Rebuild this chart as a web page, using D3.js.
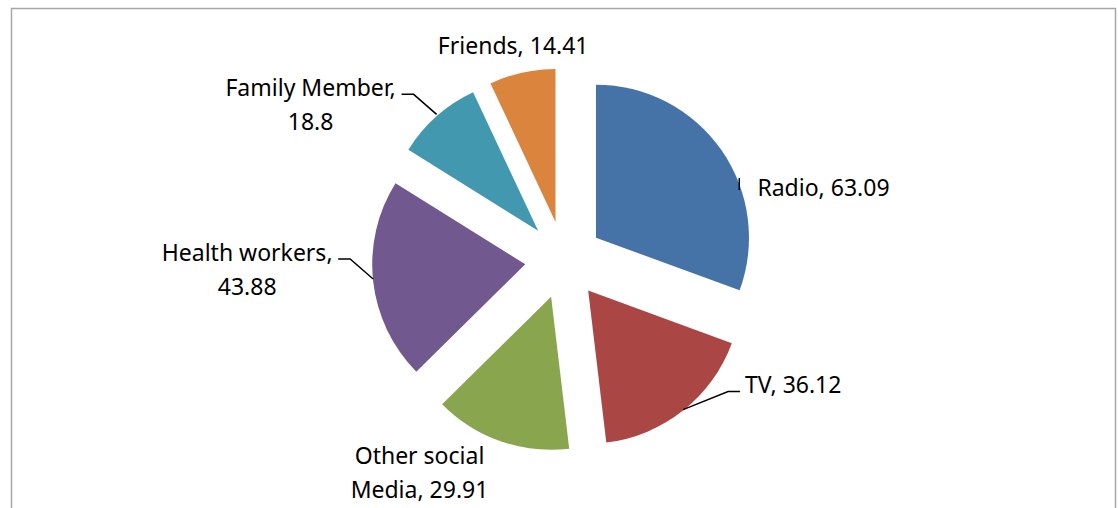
<!DOCTYPE html>
<html>
<head>
<meta charset="utf-8">
<script src="https://cdn.jsdelivr.net/npm/d3@7"></script>
<style>
  body { margin: 0; background: #fff; }
  text { font-family: "Noto Sans", "Open Sans", sans-serif; fill: #000; }
</style>
</head>
<body>
<div id="chart-area"></div>
<script>
// data, in the order the slices are drawn (clockwise from 12 o'clock)
const categories = ["Radio", "TV", "Other social Media", "Health workers", "Family Member", "Friends"];
const values = [63.09, 36.12, 29.91, 43.88, 18.8, 14.41];
const valueLabels = ["63.09", "36.12", "29.91", "43.88", "18.8", "14.41"];
const labelLines = [
  ["Radio, 63.09"],
  ["TV, 36.12"],
  ["Other social", "Media, 29.91"],
  ["Health workers,", "43.88"],
  ["Family Member,", "18.8"],
  ["Friends, 14.41"]
];
const colors = ["#4572A7", "#AA4643", "#89A54E", "#71588F", "#4198AF", "#DB843D"];

let width = 1118, height = 508;
let cx = 564, cy = 260, radius = 153, explode = 39;

// label layout: offset from outer-arc midpoint of each exploded slice
let labelLayout = [
  {dx: 36, dy: 37, anchor: "start", leader: "stub"},
  {dx: 62, dy: -26, anchor: "start", leader: "right"},
  {dx: -81, dy: 14, anchor: "middle", leader: null},
  {dx: -126, dy: -29, anchor: "middle", leader: "left"},
  {dx: -126, dy: -29, anchor: "middle", leader: "left"},
  {dx: -9, dy: -27, anchor: "middle", leader: null}
];
let fontSize = 23, lineGap = 34;

let svg = d3.select("#chart-area")
  .append("svg")
  .attr("width", width)
  .attr("height", height);

// chart frame
svg.append("rect")
  .attr("x", 11.5).attr("y", 8.5)
  .attr("width", 1104).attr("height", 520)
  .attr("fill", "#fff")
  .attr("stroke", "#a6a6a6")
  .attr("stroke-width", 1.5);

let pie = d3.pie().sort(null).value(d => d);
let arcs = pie(values);
let arc = d3.arc().innerRadius(0).outerRadius(radius);

let dir = a => [Math.sin(a), -Math.cos(a)];

let g = svg.append("g").attr("transform", "translate(" + cx + "," + cy + ")");

g.selectAll("path.slice")
  .data(arcs)
  .enter()
  .append("path")
  .attr("class", "slice")
  .attr("d", arc)
  .attr("fill", (d, i) => colors[i])
  .attr("transform", d => {
    let m = (d.startAngle + d.endAngle) / 2;
    let v = dir(m);
    return "translate(" + (v[0] * explode) + "," + (v[1] * explode) + ")";
  });

// labels
arcs.forEach((d, i) => {
  let m = (d.startAngle + d.endAngle) / 2;
  let v = dir(m);
  let ox = v[0] * (explode + radius), oy = v[1] * (explode + radius);
  let L = labelLayout[i];
  let lx = ox + L.dx, ly = oy + L.dy;

  let t = g.append("text")
    .attr("text-anchor", L.anchor)
    .attr("font-size", fontSize + "px");
  labelLines[i].forEach((s, k) => {
    t.append("tspan")
      .attr("x", lx)
      .attr("y", ly + k * lineGap + 8.5)
      .text(s);
  });

  if (L.leader === "right") {
    let ex = lx - 5, ey = ly + 7;
    g.append("polyline")
      .attr("points", [[ox, oy - 1], [ex - 12, ey], [ex, ey]].map(p => p.join(",")).join(" "))
      .attr("fill", "none").attr("stroke", "#000").attr("stroke-width", 1.5);
  } else if (L.leader === "left") {
    let ex = ox - 35, ey = ly + 7;
    g.append("polyline")
      .attr("points", [[ox, oy - 2], [ex + 12, ey], [ex, ey]].map(p => p.join(",")).join(" "))
      .attr("fill", "none").attr("stroke", "#000").attr("stroke-width", 1.5);
  } else if (L.leader === "stub") {
    // short leader where the label sits right against the arc
    let ax = v[0] * explode, ay = v[1] * explode;
    let yy = ly - 3;
    let xx = ax + Math.sqrt(radius * radius - (yy - ay) * (yy - ay));
    g.append("line")
      .attr("x1", xx).attr("x2", xx)
      .attr("y1", yy - 6).attr("y2", yy + 6)
      .attr("stroke", "#000").attr("stroke-width", 1.5);
  }
});
</script>
</body>
</html>
